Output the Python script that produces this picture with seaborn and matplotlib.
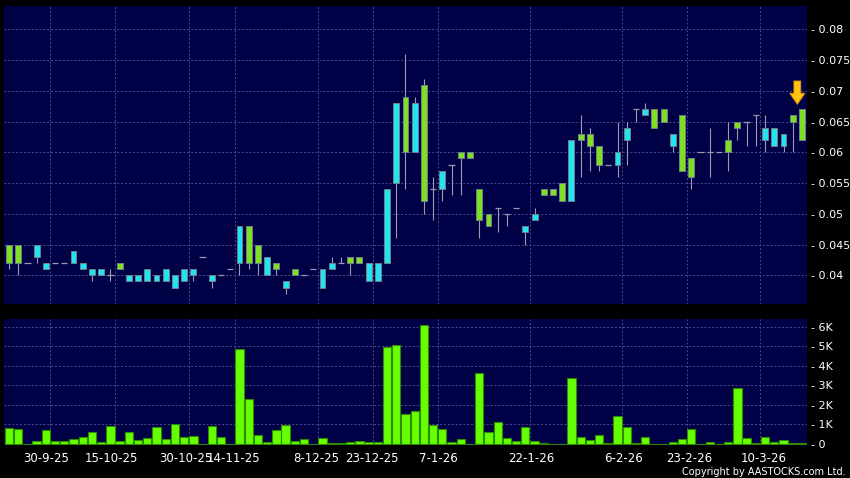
import numpy as np
import matplotlib
matplotlib.use("Agg")
import matplotlib.pyplot as plt
import seaborn as sns

# --- daily prices, one entry per trading day ---
opens = [0.045, 0.045, 0.042, 0.043, 0.041, 0.042, 0.042, 0.042, 0.041, 0.040,
         0.040, 0.040, 0.042, 0.039, 0.039, 0.039, 0.039, 0.039, 0.038, 0.039,
         0.040, 0.043, 0.039, 0.040, 0.041, 0.042, 0.048, 0.045, 0.040, 0.042,
         0.038, 0.041, 0.040, 0.041, 0.038, 0.041, 0.042, 0.043, 0.043, 0.039,
         0.039, 0.042, 0.055, 0.069, 0.060, 0.071, 0.054, 0.054, 0.058, 0.060,
         0.060, 0.054, 0.050, 0.051, 0.050, 0.051, 0.047, 0.049, 0.054, 0.054,
         0.055, 0.052, 0.063, 0.063, 0.061, 0.058, 0.058, 0.062, 0.067, 0.066,
         0.067, 0.067, 0.061, 0.066, 0.059, 0.060, 0.060, 0.060, 0.062, 0.065,
         0.065, 0.066, 0.062, 0.061, 0.061, 0.066, 0.067]
highs = [0.045, 0.045, 0.042, 0.045, 0.042, 0.042, 0.042, 0.044, 0.042, 0.041,
         0.041, 0.041, 0.042, 0.040, 0.040, 0.041, 0.040, 0.041, 0.040, 0.041,
         0.041, 0.043, 0.040, 0.040, 0.041, 0.048, 0.048, 0.045, 0.043, 0.042,
         0.039, 0.041, 0.040, 0.041, 0.041, 0.043, 0.043, 0.043, 0.043, 0.042,
         0.042, 0.054, 0.068, 0.076, 0.069, 0.072, 0.056, 0.057, 0.058, 0.060,
         0.060, 0.054, 0.050, 0.051, 0.050, 0.051, 0.048, 0.051, 0.054, 0.054,
         0.055, 0.062, 0.066, 0.064, 0.061, 0.058, 0.065, 0.065, 0.067, 0.068,
         0.067, 0.067, 0.063, 0.066, 0.059, 0.060, 0.064, 0.060, 0.065, 0.065,
         0.065, 0.066, 0.066, 0.064, 0.063, 0.066, 0.067]
lows = [0.041, 0.040, 0.042, 0.042, 0.041, 0.042, 0.042, 0.042, 0.041, 0.039,
        0.040, 0.039, 0.041, 0.039, 0.039, 0.039, 0.039, 0.039, 0.038, 0.039,
        0.039, 0.043, 0.038, 0.040, 0.041, 0.040, 0.041, 0.040, 0.040, 0.040,
        0.037, 0.040, 0.040, 0.041, 0.038, 0.041, 0.042, 0.040, 0.042, 0.039,
        0.039, 0.042, 0.046, 0.054, 0.060, 0.050, 0.049, 0.052, 0.053, 0.053,
        0.059, 0.046, 0.048, 0.047, 0.048, 0.051, 0.045, 0.049, 0.053, 0.053,
        0.052, 0.052, 0.056, 0.057, 0.057, 0.058, 0.056, 0.058, 0.065, 0.066,
        0.064, 0.065, 0.060, 0.057, 0.054, 0.060, 0.056, 0.060, 0.057, 0.062,
        0.061, 0.061, 0.060, 0.061, 0.060, 0.060, 0.062]
closes = [0.042, 0.042, 0.042, 0.045, 0.042, 0.042, 0.042, 0.044, 0.042, 0.041,
          0.041, 0.040, 0.041, 0.040, 0.040, 0.041, 0.040, 0.041, 0.040, 0.041,
          0.041, 0.043, 0.040, 0.040, 0.041, 0.048, 0.042, 0.042, 0.043, 0.041,
          0.039, 0.040, 0.040, 0.041, 0.041, 0.042, 0.042, 0.042, 0.042, 0.042,
          0.042, 0.054, 0.068, 0.060, 0.068, 0.052, 0.054, 0.057, 0.058, 0.059,
          0.059, 0.049, 0.048, 0.051, 0.050, 0.051, 0.048, 0.050, 0.053, 0.053,
          0.052, 0.062, 0.062, 0.061, 0.058, 0.058, 0.060, 0.064, 0.067, 0.067,
          0.064, 0.065, 0.063, 0.057, 0.056, 0.060, 0.060, 0.060, 0.060, 0.064,
          0.065, 0.066, 0.064, 0.064, 0.063, 0.065, 0.062]
# volume in thousands of shares
volume_k = [0.81, 0.74, 0.00, 0.15, 0.67, 0.12, 0.12, 0.24, 0.33, 0.58,
            0.09, 0.91, 0.12, 0.57, 0.19, 0.29, 0.84, 0.21, 0.98, 0.31,
            0.36, 0.00, 0.89, 0.33, 0.00, 4.85, 2.30, 0.43, 0.10, 0.69,
            0.94, 0.15, 0.22, 0.00, 0.27, 0.05, 0.02, 0.07, 0.12, 0.10,
            0.10, 4.95, 5.04, 1.51, 1.65, 6.07, 0.93, 0.74, 0.10, 0.21,
            0.00, 3.60, 0.58, 1.10, 0.27, 0.15, 0.84, 0.15, 0.05, 0.00,
            0.00, 3.36, 0.31, 0.17, 0.43, 0.03, 1.41, 0.87, 0.05, 0.34,
            0.00, 0.00, 0.07, 0.21, 0.74, 0.00, 0.10, 0.00, 0.10, 2.86,
            0.29, 0.02, 0.31, 0.07, 0.17, 0.05, 0.02]

# date labels and the day index they sit on
date_labels = ["30-9-25", "15-10-25", "30-10-25", "14-11-25", "8-12-25", "23-12-25",
               "7-1-26", "22-1-26", "6-2-26", "23-2-26", "10-3-26"]
date_idx = [4, 11, 19, 24, 33, 39, 46, 56, 66, 73, 81]
label_shift = [0.08, 0.06, 0.23, 0.33, 0.33, 0.40, 0.56, 0.60, 0.70, 0.80, 0.90]

# --- colours ---
BG = "#000046"
UP = "#22e4f0"
DOWN = "#7fe022"
VOL = "#66ff00"
WICK = "#9a9ab0"
GRID = "#4a4a8e"

sns.set_theme(style="dark")
plt.rcParams["font.family"] = ["DejaVu Sans"]

o = np.array(opens)
h = np.array(highs)
l = np.array(lows)
c = np.array(closes)
idx = np.arange(len(o))

fig = plt.figure(figsize=(8.5, 4.78), dpi=100, facecolor="black")
ax = fig.add_axes([4 / 850, 1 - 304 / 478, 803.3 / 850, 298.3 / 478])
axv = fig.add_axes([4 / 850, 1 - 444.5 / 478, 803.3 / 850, 125.8 / 478])

for a in (ax, axv):
    a.set_facecolor(BG)
    for s in a.spines.values():
        s.set_visible(False)
    a.set_xticks([i + 0.5 for i in date_idx], minor=True)
    a.grid(which="minor", axis="x", color=GRID, lw=0.7, ls=(0, (2, 2)))
    a.grid(which="major", axis="y", color=GRID, lw=0.7, ls=(0, (2, 2)))
    a.grid(which="major", axis="x", visible=False)
    a.tick_params(which="minor", length=0)
    a.set_axisbelow(True)
    a.yaxis.tick_right()
    a.tick_params(axis="y", length=0, pad=2.4, labelsize=8, labelcolor="white")

# --- candles ---
ax.vlines(idx, l, h, color=WICK, lw=0.8, zorder=2)
body = c != o
colors = np.where(c > o, UP, DOWN)
ax.bar(idx[body], np.abs(c - o)[body], bottom=np.minimum(o, c)[body], width=0.64,
       color=colors[body], edgecolor="#6e7f8a", linewidth=0.7, zorder=3)
ax.hlines(o[~body], idx[~body] - 0.34, idx[~body] + 0.34, color=WICK, lw=0.9, zorder=3)

# marker arrow over the latest day
last = len(o) - 1
ax.annotate("", xy=(last - 0.5, h[last] + 0.0008), xytext=(last - 0.5, h[last] + 0.0046),
            arrowprops=dict(arrowstyle="simple,head_width=1.1,head_length=0.8,tail_width=0.5",
                            mutation_scale=10, fc="#ffc20e", ec="#d88a00", lw=0.6,
                            shrinkA=0, shrinkB=0), zorder=5)

ax.set_xlim(-0.54, 86.58)
ax.set_ylim(0.03533, 0.08384)
yt = np.arange(0.04, 0.0801, 0.005)
ax.set_yticks(yt)
ax.set_yticklabels([f"- {v:g}" for v in yt])
ax.set_xticks([])

# --- volume ---
sns.barplot(x=idx, y=np.array(volume_k) * 1000, ax=axv, color=VOL, saturation=1,
            width=0.9, edgecolor="#2e8a00", linewidth=0.8, errorbar=None, zorder=3)
axv.set_xlim(-0.54, 86.58)
axv.set_ylim(-51, 6410)
vt = np.arange(0, 6001, 1000)
axv.set_yticks(vt)
axv.set_yticklabels(["- 0"] + [f"- {int(v // 1000)}K" for v in vt[1:]])
axv.set_xticks([i + s for i, s in zip(date_idx, label_shift)])
axv.set_xticklabels(date_labels)
axv.set_xlabel("")
axv.set_ylabel("")
axv.tick_params(axis="x", length=3, width=0.8, color="#c8c8c8", pad=2.5,
                labelsize=8.5, labelcolor="white")

fig.text(846 / 850, 1 - 471.7 / 478, "Copyright by AASTOCKS.com Ltd.", color="white",
         fontsize=7, ha="right", va="center")

fig.savefig("out.png", dpi=100, facecolor="black")
